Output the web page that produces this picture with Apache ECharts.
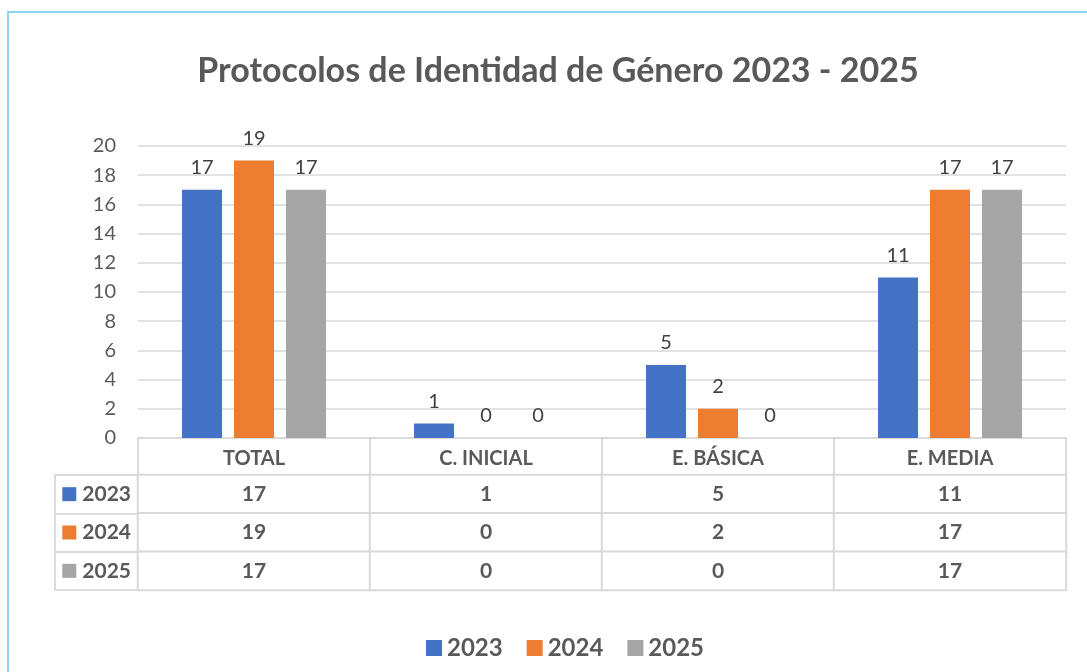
<!DOCTYPE html>
<html>
<head>
<meta charset="utf-8">
<script src="https://cdn.jsdelivr.net/npm/echarts@6/dist/echarts.min.js"></script>
<style>
  body{margin:0;background:#fff;overflow:hidden;}
  #frame{position:absolute;left:7px;top:11px;width:1200px;height:800px;border:2px solid #8fd4f2;}
  #main{position:absolute;left:0;top:0;width:1087px;height:672px;}
</style>
</head>
<body>
<div id="frame"></div>
<div id="main"></div>
<script>
// datos
const categorias = ['TOTAL', 'C. INICIAL', 'E. BÁSICA', 'E. MEDIA'];
const anios = ['2023', '2024', '2025'];
const serie2023 = [17, 1, 5, 11];
const serie2024 = [19, 0, 2, 17];
const serie2025 = [17, 0, 0, 17];
const colores = ['#4472C4', '#ED7D31', '#A5A5A5'];

const gris = '#595959';
const linea = '#d9d9d9';
const fuente = 'Lato';

const valores = [serie2023, serie2024, serie2025];

// celdas de la tabla: [categoria, fila, valor]
const celdas = [];
valores.forEach((fila, r) => {
  fila.forEach((v, c) => celdas.push([c, r, v]));
});

const rich = { g: { width: 6 }, t: { fontFamily: fuente, fontWeight: 'bold', fontSize: 21, color: gris } };
colores.forEach((c, i) => { rich['s' + i] = { width: 14, height: 14, backgroundColor: c }; });

const barras = anios.map((a, i) => ({
  name: a,
  type: 'bar',
  xAxisIndex: 0,
  yAxisIndex: 0,
  data: valores[i],
  barWidth: 40,
  barGap: '30%',
  itemStyle: { color: colores[i] },
  label: {
    show: true,
    position: 'top',
    distance: 12,
    fontFamily: fuente,
    fontSize: 20,
    color: '#404040'
  }
}));

const chart = echarts.init(document.getElementById('main'));
chart.setOption({
  animation: false,
  title: {
    text: 'Protocolos de Identidad de Género 2023 - 2025',
    left: 553,
    top: 49,
    textAlign: 'center',
    textStyle: { fontFamily: fuente, fontWeight: 'bold', fontSize: 34, color: gris }
  },
  legend: {
    data: anios,
    bottom: 7,
    left: 421,
    icon: 'rect',
    itemWidth: 16,
    itemHeight: 16,
    itemGap: 24,
    textStyle: { fontFamily: fuente, fontWeight: 'bold', fontSize: 24, color: gris }
  },
  visualMap: {
    show: false,
    seriesIndex: 3,
    min: 0,
    max: 20,
    inRange: { color: ['#ffffff', '#ffffff'] }
  },
  grid: [
    { left: 138, right: 21, top: 146, height: 292 },
    { left: 138, right: 21, top: 475, height: 115 }
  ],
  xAxis: [
    {
      type: 'category',
      gridIndex: 0,
      data: categorias,
      axisLine: { lineStyle: { color: linea, width: 2 } },
      axisTick: { show: true, interval: 0, length: 37, lineStyle: { color: linea, width: 2 } },
      axisLabel: { margin: 11, fontFamily: fuente, fontWeight: 'bold', fontSize: 20, color: gris }
    },
    {
      type: 'category',
      gridIndex: 1,
      data: categorias,
      axisLine: { show: false },
      axisTick: { show: false },
      axisLabel: { show: false }
    }
  ],
  yAxis: [
    {
      type: 'value',
      gridIndex: 0,
      min: 0,
      max: 20,
      interval: 2,
      axisLine: { show: false },
      axisTick: { show: false },
      axisLabel: { margin: 22, fontFamily: fuente, fontSize: 20, color: gris },
      splitLine: { lineStyle: { color: linea, width: 1.5 } }
    },
    {
      type: 'category',
      gridIndex: 1,
      data: anios,
      inverse: true,
      axisLine: { show: true, lineStyle: { color: linea, width: 2 } },
      axisTick: { show: true, interval: 0, length: 83, lineStyle: { color: linea, width: 2 } },
      axisLabel: {
        margin: 7,
        formatter: (v, i) => '{s' + i + '|}{g|}{t|' + v + '}',
        rich: rich
      }
    },
    {
      type: 'category',
      gridIndex: 1,
      data: anios,
      position: 'left',
      offset: 83,
      axisLine: { show: true, lineStyle: { color: linea, width: 2 } },
      axisTick: { show: false },
      axisLabel: { show: false }
    }
  ],
  series: barras.concat([{
    name: 'tabla',
    type: 'heatmap',
    xAxisIndex: 1,
    yAxisIndex: 1,
    data: celdas,
    itemStyle: { borderColor: linea, borderWidth: 2 },
    label: {
      show: true,
      formatter: p => p.value[2],
      fontFamily: fuente,
      fontWeight: 'bold',
      fontSize: 21,
      color: gris
    },
    emphasis: { disabled: true }
  }])
});
</script>
</body>
</html>
